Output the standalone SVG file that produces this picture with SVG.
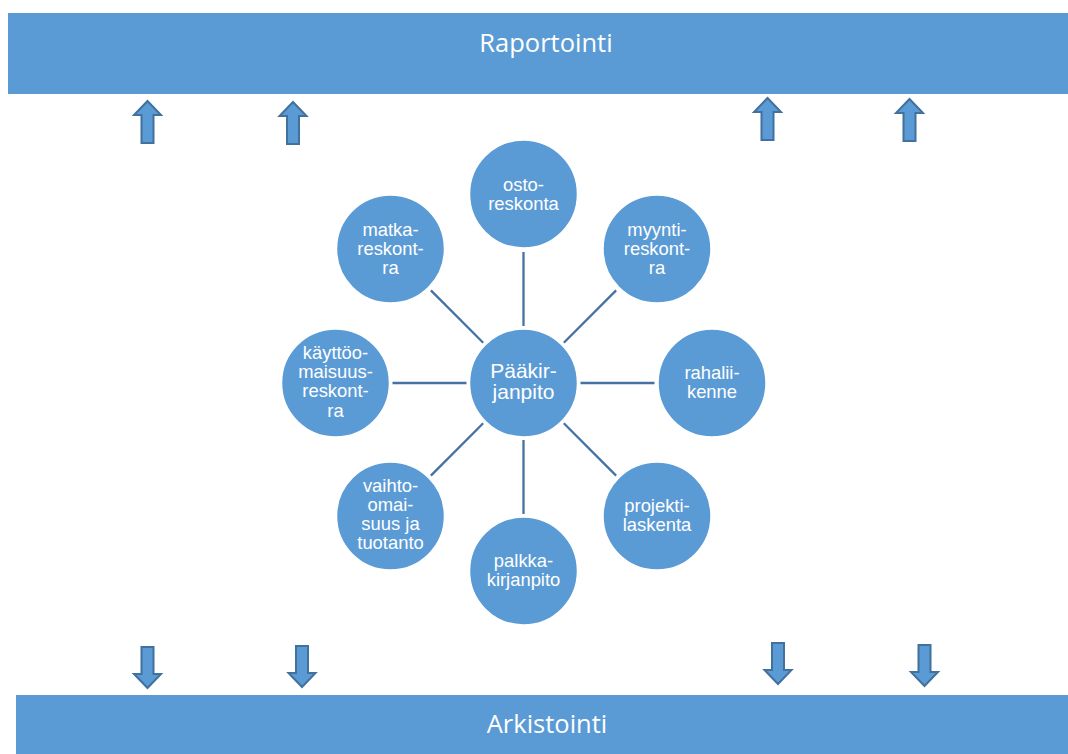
<svg xmlns="http://www.w3.org/2000/svg" width="1068" height="754" viewBox="0 0 1068 754">
  <style>
    .bar { fill: #5B9BD5; }
    .bar-label { fill: #FFFFFF; font-family: "Open Sans", "Liberation Sans", sans-serif; font-size: 25.5px; text-anchor: middle; }
    .node { fill: #5B9BD5; stroke: #FFFFFF; stroke-width: 1.5; }
    .label { fill: #FFFFFF; font-family: "Liberation Sans", Arial, sans-serif; font-size: 18.4px; text-anchor: middle; }
    .hub-label { font-size: 21px; }
    .spoke { stroke: #4372A3; stroke-width: 2.3; }
    .flow { fill: #5B9BD5; stroke: #41719C; stroke-width: 2; stroke-linejoin: miter; }
  </style>
  <defs>
    <!-- block arrows, tip at the origin -->
    <path id="arrow-up" d="M0,0 L13.5,14 L6,14 L6,42 L-6,42 L-6,14 L-13.5,14 Z"/>
    <path id="arrow-down" d="M-6,0 L6,0 L6,27 L13.5,27 L0,41 L-13.5,27 L-6,27 Z"/>
  </defs>

  <rect width="1068" height="754" fill="#FFFFFF"/>

  <!-- reporting layer -->
  <g id="raportointi">
    <rect class="bar" x="8" y="13" width="1060" height="81"/>
    <text class="bar-label" x="546" y="52">Raportointi</text>
  </g>

  <!-- archiving layer -->
  <g id="arkistointi">
    <rect class="bar" x="16" y="695" width="1052" height="59"/>
    <text class="bar-label" x="547" y="733">Arkistointi</text>
  </g>

  <!-- flows up to reporting and down to archiving -->
  <g id="flows">
    <use href="#arrow-up" class="flow" transform="translate(147.5,101)"/>
    <use href="#arrow-up" class="flow" transform="translate(293,102)"/>
    <use href="#arrow-up" class="flow" transform="translate(767.5,98)"/>
    <use href="#arrow-up" class="flow" transform="translate(909.5,99)"/>
    <use href="#arrow-down" class="flow" transform="translate(147.5,647)"/>
    <use href="#arrow-down" class="flow" transform="translate(302,646)"/>
    <use href="#arrow-down" class="flow" transform="translate(778,643)"/>
    <use href="#arrow-down" class="flow" transform="translate(924.5,645)"/>
  </g>

  <!-- spokes from the general ledger to each sub-ledger -->
  <g id="connectors">
    <line class="spoke" x1="523.5" y1="326" x2="523.5" y2="252"/>
    <line class="spoke" x1="563.8" y1="342.7" x2="616.1" y2="290.4"/>
    <line class="spoke" x1="580.5" y1="383" x2="654.5" y2="383"/>
    <line class="spoke" x1="563.8" y1="423.3" x2="616.1" y2="475.6"/>
    <line class="spoke" x1="523.5" y1="440" x2="523.5" y2="514"/>
    <line class="spoke" x1="483.2" y1="423.3" x2="430.9" y2="475.6"/>
    <line class="spoke" x1="466.5" y1="383" x2="392.5" y2="383"/>
    <line class="spoke" x1="483.2" y1="342.7" x2="430.9" y2="290.4"/>
  </g>

  <g id="paakirjanpito">
    <circle class="node" cx="523.5" cy="383" r="54"/>
    <text class="label hub-label" x="523.5"><tspan x="523.5" y="378">Pääkir-</tspan><tspan x="523.5" y="399">janpito</tspan></text>
  </g>

  <g id="ostoreskontra">
    <circle class="node" cx="523.5" cy="194" r="54"/>
    <text class="label"><tspan x="523.5" y="191">osto-</tspan><tspan x="523.5" y="210">reskonta</tspan></text>
  </g>

  <g id="myyntireskontra">
    <circle class="node" cx="657" cy="249" r="54"/>
    <text class="label"><tspan x="657" y="236">myynti-</tspan><tspan x="657" y="255">reskont-</tspan><tspan x="657" y="274">ra</tspan></text>
  </g>

  <g id="rahaliikenne">
    <circle class="node" cx="712" cy="383" r="54"/>
    <text class="label"><tspan x="712" y="379">rahalii-</tspan><tspan x="712" y="398">kenne</tspan></text>
  </g>

  <g id="projektilaskenta">
    <circle class="node" cx="657" cy="516" r="54"/>
    <text class="label"><tspan x="657" y="512">projekti-</tspan><tspan x="657" y="531">laskenta</tspan></text>
  </g>

  <g id="palkkakirjanpito">
    <circle class="node" cx="523.5" cy="571" r="54"/>
    <text class="label"><tspan x="523.5" y="567">palkka-</tspan><tspan x="523.5" y="586">kirjanpito</tspan></text>
  </g>

  <g id="vaihto-omaisuus">
    <circle class="node" cx="390.5" cy="516" r="54"/>
    <text class="label"><tspan x="390.5" y="492">vaihto-</tspan><tspan x="390.5" y="511">omai-</tspan><tspan x="390.5" y="530">suus ja</tspan><tspan x="390.5" y="549">tuotanto</tspan></text>
  </g>

  <g id="kayttoomaisuusreskontra">
    <circle class="node" cx="335.5" cy="383" r="54"/>
    <text class="label"><tspan x="335.5" y="359">käyttöo-</tspan><tspan x="335.5" y="378">maisuus-</tspan><tspan x="335.5" y="397">reskont-</tspan><tspan x="335.5" y="417">ra</tspan></text>
  </g>

  <g id="matkareskontra">
    <circle class="node" cx="390.5" cy="249" r="54"/>
    <text class="label"><tspan x="390.5" y="236">matka-</tspan><tspan x="390.5" y="255">reskont-</tspan><tspan x="390.5" y="274">ra</tspan></text>
  </g>
</svg>
